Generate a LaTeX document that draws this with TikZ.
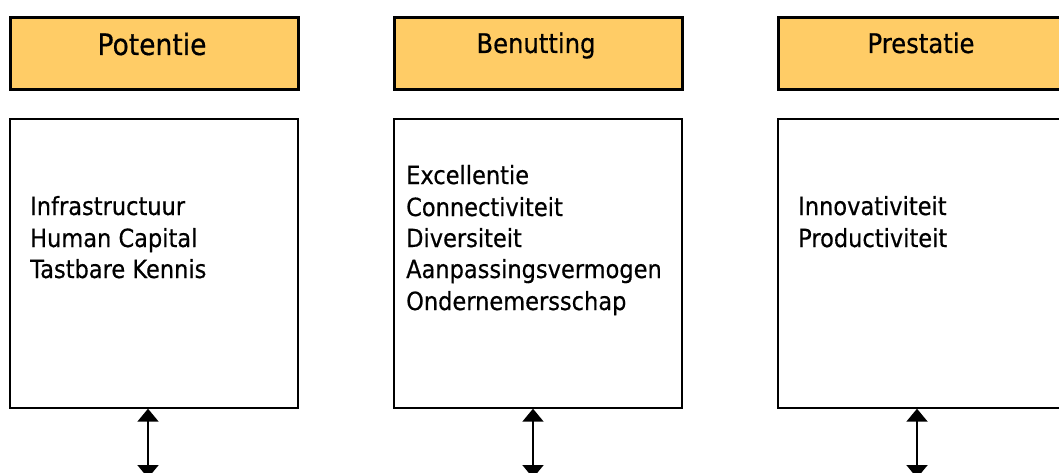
\documentclass[tikz,border=0pt]{standalone}
\usepackage{fontspec}
\setmainfont{DejaVu Sans}
\newfontfamily\narrowfont[FakeStretch=0.9,FakeBold=0.5]{DejaVu Sans}
\usetikzlibrary{arrows.meta}
\definecolor{hdr}{RGB}{255,204,102}
\tikzset{
  hdrbox/.style={draw=black, line width=2.7pt, fill=hdr, minimum width=288pt, minimum height=72pt, inner sep=0pt, anchor=north west},
  bodybox/.style={draw=black, line width=1.7pt, fill=white, minimum width=288pt, minimum height=289pt, inner sep=0pt, anchor=north west},
  hdrtext/.style={inner sep=0pt, anchor=base, font=\narrowfont\fontsize{27pt}{32pt}\selectfont},
  bodytext/.style={inner sep=0pt, anchor=base west, font=\narrowfont\fontsize{25pt}{31.5pt}\selectfont},
  dblarrow/.style={line width=2pt, {Triangle[width=21pt,length=13pt]}-{Triangle[width=21pt,length=13pt]}}
}
\begin{document}
\begin{tikzpicture}[x=1pt,y=-1pt]
\useasboundingbox (0,0) rectangle (1059,473);
\clip (0,0) rectangle (1059,473);
% headers
\node[hdrbox] (h1) at (9,16) {};
\node[hdrbox] (h2) at (393,16) {};
\node[hdrbox] (h3) at (777,16) {};
\node[hdrtext, font=\narrowfont\fontsize{29.5pt}{34pt}\selectfont] (t1) at (152,55) {Potentie};
\node[hdrtext] (t2) at (536,53) {Benutting};
\node[hdrtext] (t3) at (921,53) {Prestatie};
% bodies
\node[bodybox] (b1) at (9,118) {};
\node[bodybox] (b2) at (393,118) {};
\node[bodybox] (b3) at (777,118) {};
% body texts
\node[bodytext] (l11) at (30,215) {Infrastructuur};
\node[bodytext] (l12) at (30,247) {Human Capital};
\node[bodytext] (l13) at (30,278) {Tastbare Kennis};
\node[bodytext] (l21) at (406,184) {Excellentie};
\node[bodytext] (l22) at (406,216) {Connectiviteit};
\node[bodytext] (l23) at (406,247) {Diversiteit};
\node[bodytext] (l24) at (406,278) {Aanpassingsvermogen};
\node[bodytext] (l25) at (406,310) {Ondernemersschap};
\node[bodytext] (l31) at (798,215) {Innovativiteit};
\node[bodytext] (l32) at (798,247) {Productiviteit};
% arrows
\coordinate (e1) at (148,478);
\coordinate (e2) at (533,478);
\coordinate (e3) at (917,478);
\draw[dblarrow] (b1.south -| e1) -- (e1);
\draw[dblarrow] (b2.south -| e2) -- (e2);
\draw[dblarrow] (b3.south -| e3) -- (e3);
\end{tikzpicture}
\end{document}
